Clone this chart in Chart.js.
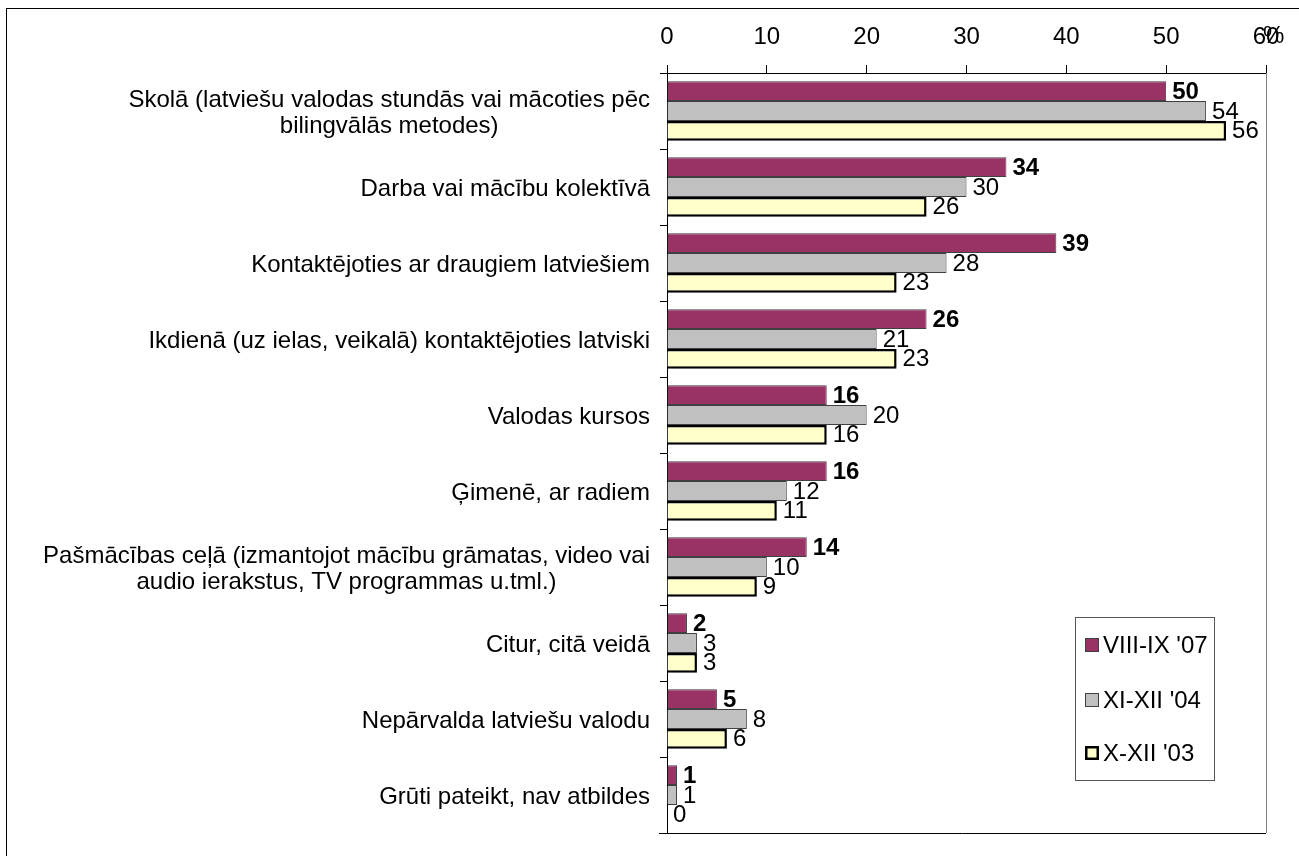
<!DOCTYPE html>
<html>
<head>
<meta charset="utf-8">
<title>Latviešu valodas apguve</title>
<script src="https://cdn.jsdelivr.net/npm/chart.js"></script>
<style>
  html, body { margin: 0; padding: 0; background: #fff; }
  #wrap { width: 1299px; height: 856px; }
</style>
</head>
<body>
<div id="wrap"><canvas id="chart" width="1299" height="856"></canvas></div>
<script>
// data
const categories = [
  ['Skolā (latviešu valodas stundās vai mācoties pēc', 'bilingvālās metodes)'],
  ['Darba vai mācību kolektīvā'],
  ['Kontaktējoties ar draugiem latviešiem'],
  ['Ikdienā (uz ielas, veikalā) kontaktējoties latviski'],
  ['Valodas kursos'],
  ['Ģimenē, ar radiem'],
  ['Pašmācības ceļā (izmantojot mācību grāmatas, video vai', 'audio ierakstus, TV programmas u.tml.)'],
  ['Citur, citā veidā'],
  ['Nepārvalda latviešu valodu'],
  ['Grūti pateikt, nav atbildes']
];
const seriesNames = ["VIII-IX '07", "XI-XII '04", "X-XII '03"];
const values07 = [50, 34, 39, 26, 16, 16, 14, 2, 5, 1];
const values04 = [54, 30, 28, 21, 20, 12, 10, 3, 8, 1];
const values03 = [56, 26, 23, 23, 16, 11, 9, 3, 6, 0];
const xTicks = [0, 10, 20, 30, 40, 50, 60];
const unitLabel = '%';

const FONT = '"Liberation Sans", Arial, sans-serif';
const FS = 24;

// white page + outer frame
const framePlugin = {
  id: 'frame',
  beforeDraw(chart) {
    const c = chart.ctx;
    c.save();
    c.fillStyle = '#fff';
    c.fillRect(0, 0, chart.width, chart.height);
    c.strokeStyle = '#000';
    c.lineWidth = 1;
    c.strokeRect(6.5, 8.5, chart.width + 20, chart.height + 20);
    c.restore();
  },
  afterDraw(chart) {
    const c = chart.ctx, a = chart.chartArea;
    c.save();
    c.lineWidth = 1;
    c.strokeStyle = '#000';
    c.beginPath();
    c.moveTo(a.left - 8, Math.round(a.bottom) + 0.5);
    c.lineTo(a.right, Math.round(a.bottom) + 0.5);
    c.stroke();
    c.strokeStyle = '#808080';
    c.beginPath();
    c.moveTo(Math.round(a.right) + 0.5, a.top);
    c.lineTo(Math.round(a.right) + 0.5, a.bottom);
    c.stroke();
    // unit sign next to last tick
    const xs = chart.scales.x;
    c.fillStyle = '#000';
    c.font = FS + 'px ' + FONT;
    c.textAlign = 'left';
    c.textBaseline = 'middle';
    c.fillText(unitLabel, xs.getPixelForValue(xTicks[xTicks.length - 1]) - 3, 36);
    c.restore();
  }
};

// category names, each block right aligned, lines centred in the block
const catLabelPlugin = {
  id: 'catLabels',
  afterDraw(chart) {
    const c = chart.ctx, ys = chart.scales.y, a = chart.chartArea;
    const right = a.left - 17, lh = 26;
    c.save();
    c.fillStyle = '#000';
    c.font = FS + 'px ' + FONT;
    c.textAlign = 'center';
    c.textBaseline = 'middle';
    categories.forEach((lines, i) => {
      const w = Math.max(...lines.map(l => c.measureText(l).width));
      const cx = right - w / 2;
      const cy = ys.getPixelForValue(i) + 2;
      lines.forEach((l, k) => {
        c.fillText(l, cx, cy + (k - (lines.length - 1) / 2) * lh);
      });
    });
    c.restore();
  }
};

// value labels at the bar ends
const valueLabelPlugin = {
  id: 'valueLabels',
  afterDatasetsDraw(chart) {
    const c = chart.ctx;
    c.save();
    c.fillStyle = '#000';
    c.textAlign = 'left';
    c.textBaseline = 'middle';
    chart.data.datasets.forEach((ds, di) => {
      c.font = (di === 0 ? 'bold ' : '') + FS + 'px ' + FONT;
      chart.getDatasetMeta(di).data.forEach((bar, i) => {
        c.fillText(String(ds.data[i]), bar.x + 6, bar.y + 1);
      });
    });
    c.restore();
  }
};

// boxed legend sitting inside the plot, lower right
const boxLegendPlugin = {
  id: 'boxLegend',
  afterDraw(chart) {
    const c = chart.ctx;
    const box = { x: 1075, y: 617, w: 139, h: 163 };
    const rows = [645, 700, 753];
    c.save();
    c.fillStyle = '#fff';
    c.fillRect(box.x, box.y, box.w, box.h);
    c.strokeStyle = '#555';
    c.lineWidth = 1;
    c.strokeRect(box.x + 0.5, box.y + 0.5, box.w, box.h);
    c.font = FS + 'px ' + FONT;
    c.textAlign = 'left';
    c.textBaseline = 'middle';
    chart.data.datasets.forEach((ds, i) => {
      const y = rows[i];
      c.fillStyle = ds.backgroundColor;
      c.fillRect(1085, y - 7, 14, 14);
      c.strokeStyle = ds.borderColor;
      c.lineWidth = ds.borderWidth;
      c.strokeRect(1085 + ds.borderWidth / 2, y - 7 + ds.borderWidth / 2, 14 - ds.borderWidth, 14 - ds.borderWidth);
      c.fillStyle = '#000';
      c.fillText(ds.label, 1103, y + 1);
    });
    c.restore();
  }
};

new Chart(document.getElementById('chart'), {
  type: 'bar',
  data: {
    labels: categories.map(l => l.join(' ')),
    datasets: [
      { label: seriesNames[0], data: values07, backgroundColor: '#993366', borderColor: '#404040', borderWidth: 1 },
      { label: seriesNames[1], data: values04, backgroundColor: '#C0C0C0', borderColor: '#404040', borderWidth: 1 },
      { label: seriesNames[2], data: values03, backgroundColor: '#FFFFCC', borderColor: '#000000', borderWidth: 2.5 }
    ]
  },
  options: {
    indexAxis: 'y',
    responsive: false,
    animation: false,
    layout: { padding: { top: 0, left: 0, right: 33, bottom: 23 } },
    datasets: { bar: { categoryPercentage: 0.78, barPercentage: 1 } },
    plugins: {
      legend: { display: false },
      tooltip: { enabled: false }
    },
    scales: {
      x: {
        position: 'top',
        min: xTicks[0],
        max: xTicks[xTicks.length - 1],
        afterBuildTicks: s => { s.ticks = xTicks.map(v => ({ value: v })); },
        afterFit: s => { s.height = 73; },
        ticks: { color: '#000', font: { family: FONT, size: FS }, padding: 13, maxRotation: 0 },
        grid: { drawOnChartArea: false, drawTicks: true, tickLength: 8, color: '#000' },
        border: { display: true, color: '#000', width: 1 }
      },
      y: {
        afterFit: s => { s.width = 667; },
        ticks: { callback: () => '' },
        grid: { offset: true, drawOnChartArea: false, drawTicks: true, tickLength: 7, color: '#000' },
        border: { display: true, color: '#000', width: 1 }
      }
    }
  },
  plugins: [framePlugin, catLabelPlugin, valueLabelPlugin, boxLegendPlugin]
});
</script>
</body>
</html>
